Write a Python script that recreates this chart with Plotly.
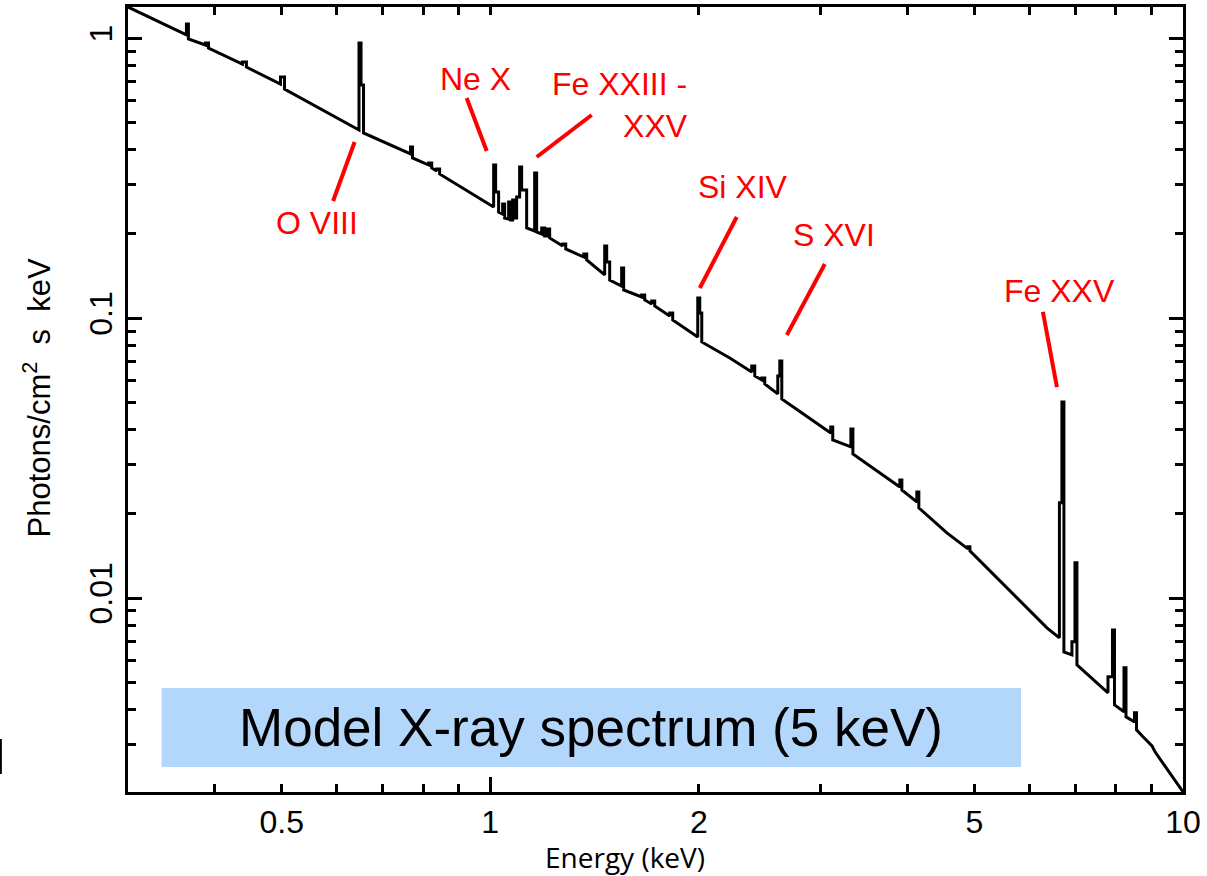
import math
import plotly.graph_objects as go

# ---------------- data ----------------
# Vertices of the model spectrum outline: energy (keV) ...
energy_keV = (
    [0.3000, 0.3643, 0.3643, 0.3667, 0.3667, 0.3881, 0.3881, 0.3920, 0.3920]
    + [0.4388, 0.4388, 0.4447, 0.4447, 0.4980, 0.4980, 0.5047, 0.5047, 0.5920]
    + [0.6465, 0.6465, 0.6509, 0.6509, 0.6563, 0.6563]
    + [0.7673, 0.7673, 0.7724, 0.7724, 0.8151, 0.8151, 0.8232, 0.8232, 0.8368, 0.8368, 0.8452, 0.8452]
    + [1.0114, 1.0114, 1.0181, 1.0181, 1.0282, 1.0282]
    + [1.0421, 1.0421, 1.0491, 1.0491, 1.0631, 1.0631, 1.0702, 1.0702, 1.0773, 1.0773, 1.0845, 1.0845]
    + [1.0917, 1.0917, 1.1026, 1.1026, 1.1100, 1.1100, 1.1287, 1.1287, 1.1591, 1.1591, 1.1668, 1.1668]
    + [1.1864, 1.1864, 1.1983, 1.1983, 1.2103, 1.2103, 1.2184, 1.2184, 1.2724, 1.2724, 1.2852, 1.2852, 1.3644, 1.3644, 1.3781, 1.3781]
    + [1.4629, 1.4629, 1.4727, 1.4727, 1.4874, 1.4874, 1.5477, 1.5477, 1.5580, 1.5580]
    + [1.6545, 1.6545, 1.6711, 1.6711, 1.7105, 1.7105, 1.7276, 1.7276, 1.8158, 1.8158, 1.8340, 1.8340]
    + [1.9932, 1.9932, 2.0065, 2.0065, 2.0199, 2.0199, 2.2172]
    + [2.3851, 2.3851, 2.4090, 2.4090, 2.4658, 2.4658, 2.4905, 2.4905]
    + [2.6006, 2.6006, 2.6180, 2.6180, 2.6355, 2.6355]
    + [3.1012, 3.1012, 3.1219, 3.1219, 3.3161, 3.3161, 3.3382, 3.3382]
    + [3.9019, 3.9019, 3.9279, 3.9279, 4.1286, 4.1286, 4.1561, 4.1561]
    + [4.5625, 4.8926, 4.8926, 4.9253, 4.9253, 5.2123, 5.6822, 6.3616]
    + [6.6315, 6.6315, 6.6868, 6.6868, 6.7313, 6.7313]
    + [6.9129, 6.9129, 6.9828, 6.9828, 7.0292, 7.0292]
    + [7.7931, 7.7931, 7.9105, 7.9105, 7.9633, 7.9633]
    + [8.2188, 8.2188, 8.2737, 8.2737, 8.5109, 8.5109, 8.5677, 8.5677]
    + [8.7551, 9.0212, 9.1117, 10.0]
)
# ... and photon flux (photons / cm^2 / s / keV) at each vertex
photon_flux = (
    [1.294, 1.028, 1.125, 1.125, 0.9943, 0.9464, 0.9621, 0.9621, 0.9234]
    + [0.8095, 0.8230, 0.8230, 0.7898, 0.6866, 0.7272, 0.7272, 0.6590, 0.5323]
    + [0.4707, 0.9621, 0.9621, 0.6810, 0.6810, 0.4592]
    + [0.3862, 0.4091, 0.4091, 0.3737, 0.3527, 0.3586, 0.3586, 0.3442, 0.3358, 0.3413, 0.3413, 0.3276]
    + [0.2497, 0.3527, 0.3527, 0.2825, 0.2825, 0.2396]
    + [0.2357, 0.2560, 0.2560, 0.2281, 0.2262, 0.2602, 0.2602, 0.2244, 0.2244, 0.2645, 0.2645, 0.2281]
    + [0.2281, 0.2711, 0.2711, 0.3470, 0.3470, 0.2872, 0.2872, 0.2101, 0.2050, 0.3303, 0.3303, 0.2033]
    + [0.2000, 0.2101, 0.2101, 0.1967, 0.1967, 0.2084, 0.2084, 0.1935, 0.1812, 0.1842, 0.1842, 0.1768, 0.1655, 0.1697, 0.1697, 0.1615]
    + [0.1428, 0.1812, 0.1812, 0.1588, 0.1588, 0.1370, 0.1304, 0.1512, 0.1512, 0.1262]
    + [0.1191, 0.1211, 0.1211, 0.1162, 0.1124, 0.1153, 0.1153, 0.1106, 0.1019, 0.1044, 0.1044, 0.09861]
    + [0.08575, 0.1181, 0.1181, 0.1044, 0.1044, 0.08230, 0.07214]
    + [0.06431, 0.06757, 0.06757, 0.06222, 0.06021, 0.06120, 0.06120, 0.05826]
    + [0.05366, 0.06222, 0.06222, 0.07041, 0.07041, 0.05150]
    + [0.03894, 0.04090, 0.04090, 0.03676, 0.03470, 0.04023, 0.04023, 0.03277]
    + [0.02497, 0.02645, 0.02645, 0.02436, 0.02208, 0.02396, 0.02396, 0.02101]
    + [0.01710, 0.01500, 0.01525, 0.01525, 0.01476, 0.01283, 0.01036, 0.007834]
    + [0.007214, 0.02190, 0.02190, 0.05024, 0.05024, 0.006430]
    + [0.006273, 0.006981, 0.006981, 0.01337, 0.01337, 0.005779]
    + [0.004590, 0.005235, 0.005235, 0.007703, 0.007703, 0.004158]
    + [0.003926, 0.005638, 0.005638, 0.003767, 0.003615, 0.003894, 0.003894, 0.003385]
    + [0.003196, 0.002968, 0.002825, 0.002033]
)
assert len(energy_keV) == len(photon_flux)

x_tick_vals = [0.5, 1, 2, 5, 10]
x_tick_text = ["0.5", "1", "2", "5", "10"]
x_minor_vals = [0.4, 0.6, 0.7, 0.8, 0.9, 3, 4, 6, 7, 8, 9]
y_tick_vals = [0.01, 0.1, 1]
y_tick_text = ["0.01", "0.1", "1"]
y_minor_vals = [0.003, 0.004, 0.005, 0.006, 0.007, 0.008, 0.009,
                0.02, 0.03, 0.04, 0.05, 0.06, 0.07, 0.08, 0.09,
                0.2, 0.3, 0.4, 0.5, 0.6, 0.7, 0.8, 0.9]

line_labels = ["O VIII", "Ne X", "Fe XXIII -<br>XXV", "Si XIV", "S XVI", "Fe XXV"]

x_range = [math.log10(0.3), math.log10(10)]
y_range = [math.log10(0.00203), math.log10(1.294)]

# ---------------- figure ----------------
fig = go.Figure()
fig.add_trace(go.Scatter(
    x=energy_keV, y=photon_flux, mode="lines",
    line=dict(color="black", width=3), showlegend=False, hoverinfo="skip",
))
# empty traces to bind overlay axes
fig.add_trace(go.Scatter(x=[], y=[], xaxis="x2", yaxis="y", showlegend=False))
fig.add_trace(go.Scatter(x=[], y=[], xaxis="x3", yaxis="y", showlegend=False))

FONT = "Liberation Sans, Arial, sans-serif"

fig.update_layout(
    width=1207, height=876,
    margin=dict(l=128, r=24, t=7, b=84),
    paper_bgcolor="white", plot_bgcolor="white",
    font=dict(family=FONT, color="black"),
    xaxis=dict(
        type="log", range=x_range, showgrid=False, zeroline=False,
        showline=True, linecolor="black", linewidth=3, mirror=False,
        ticks="inside", tickvals=x_tick_vals, ticktext=x_tick_text,
        ticklen=8, tickwidth=2.5, tickcolor="black",
        tickfont=dict(size=32, family=FONT),
        minor=dict(ticks="inside", tickvals=x_minor_vals, ticklen=8,
                   tickwidth=2.5, tickcolor="black", showgrid=False),
    ),
    xaxis2=dict(
        type="log", range=x_range, overlaying="x", side="top", anchor="y",
        showgrid=False, zeroline=False, showline=True, linecolor="black",
        linewidth=3, ticks="inside",
        tickvals=[0.4, 0.5, 0.6, 0.7, 0.8, 0.9, 1, 2, 3, 4, 5, 6, 7, 8, 9],
        ticklen=8, tickwidth=2.5, tickcolor="black", showticklabels=False,
    ),
    xaxis3=dict(
        type="log", range=x_range, overlaying="x", side="bottom", anchor="y",
        showgrid=False, zeroline=False, showline=False, ticks="inside",
        tickvals=[1, 10], ticklen=15, tickwidth=2.5, tickcolor="black",
        showticklabels=False,
    ),
    yaxis=dict(
        type="log", range=y_range, showgrid=False, zeroline=False,
        showline=True, linecolor="black", linewidth=3, mirror="ticks",
        ticks="inside", tickvals=y_tick_vals, ticktext=y_tick_text,
        ticklen=14, tickwidth=2.5, tickcolor="black", tickangle=-90,
        tickfont=dict(size=32, family=FONT),
        minor=dict(ticks="inside", tickvals=y_minor_vals, ticklen=8,
                   tickwidth=2.5, tickcolor="black", showgrid=False),
    ),
)

# blue caption box
fig.add_shape(type="rect", xref="paper", yref="paper",
              x0=0.0318, x1=0.8464, y0=0.0318, y1=0.1325,
              fillcolor="#b3d7fb", line=dict(width=0), layer="below")
fig.add_annotation(xref="paper", yref="paper", x=0.4386, y=0.0822,
                   text="Model X-ray spectrum (5 keV)", showarrow=False,
                   font=dict(size=53, family=FONT, color="black"),
                   xanchor="center", yanchor="middle")

# axis titles
fig.add_annotation(xref="paper", yref="paper", x=0.4708, y=-0.0828,
                   text="Energy (keV)", showarrow=False,
                   font=dict(size=28, family="Open Sans, sans-serif", color="black"),
                   xanchor="center", yanchor="middle")
fig.add_annotation(xref="paper", yref="paper", x=-0.0858, y=0.5019,
                   text="Photons/cm<sup>2</sup>  s  keV", showarrow=False,
                   textangle=-90,
                   font=dict(size=31, family=FONT, color="black"),
                   xanchor="center", yanchor="middle")

# red line labels and pointer lines
label_pos = [(0.1788, 0.7248), (0.3295, 0.9083), (0.4661, 0.8752),
             (0.5828, 0.7707), (0.6690, 0.7096), (0.8834, 0.6382)]
pointer = [((0.2148, 0.8280), (0.1944, 0.7529)),
           ((0.3210, 0.8841), (0.3400, 0.8166)),
           ((0.4395, 0.8624), (0.3874, 0.8089)),
           ((0.5770, 0.7325), (0.5420, 0.6420)),
           ((0.6605, 0.6726), (0.6245, 0.5822)),
           ((0.8672, 0.6115), (0.8805, 0.5159))]
for lab, (px, py), ((ax0, ay0), (ax1, ay1)) in zip(line_labels, label_pos, pointer):
    fig.add_annotation(xref="paper", yref="paper", x=px, y=py, text=lab,
                       showarrow=False, align="right",
                       font=dict(size=32, family=FONT, color="#ff0000"),
                       xanchor="center", yanchor="middle")
    fig.add_shape(type="line", xref="paper", yref="paper",
                  x0=ax0, y0=ay0, x1=ax1, y1=ay1,
                  line=dict(color="#ff0000", width=4))

# small clipped glyph fragment at the far left edge of the reference
fig.add_shape(type="line", xref="paper", yref="paper",
              x0=-0.1205, x1=-0.1205, y0=0.0229, y1=0.0675,
              line=dict(color="black", width=2))

fig.write_html("out.html")
